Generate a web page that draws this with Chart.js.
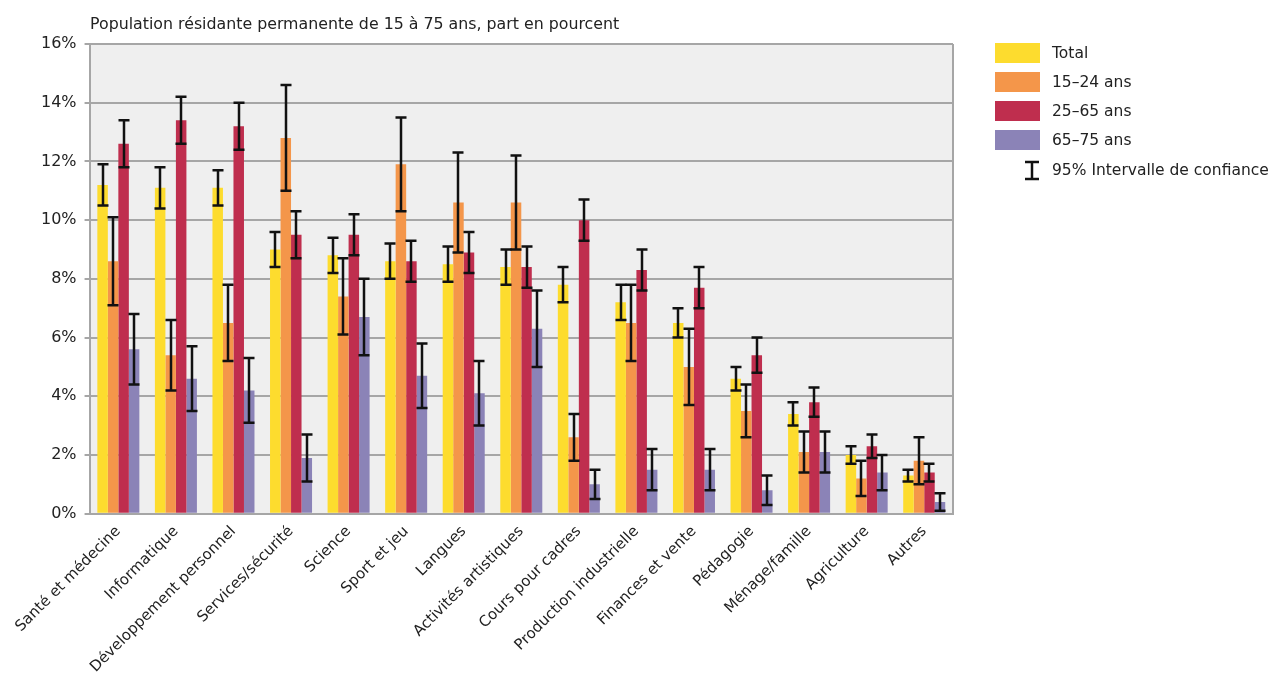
<!DOCTYPE html>
<html>
<head>
<meta charset="utf-8">
<script src="https://cdn.jsdelivr.net/npm/chart.js@4/dist/chart.umd.min.js"></script>
<style>
  body { margin: 0; background: #fff; font-family: "DejaVu Sans", sans-serif; color: #222; }
  #wrap { position: relative; width: 1277px; height: 677px; }
  #title { position: absolute; left: 90px; top: 14px; font-size: 15.8px; }
  #legend { position: absolute; left: 995px; top: 43px; font-size: 15.5px; }
  .item { height: 29px; display: flex; align-items: flex-start; }
  .sw { width: 45px; height: 20px; margin-right: 12px; }
  .item span { line-height: 20px; }
</style>
</head>
<body>
<div id="wrap">
  <canvas id="chart" width="1277" height="677"></canvas>
  <div id="title">Population résidante permanente de 15 à 75 ans, part en pourcent</div>
  <div id="legend"></div>
</div>
<script>
// categories
const categories = ['Santé et médecine', 'Informatique', 'Développement personnel', 'Services/sécurité',
  'Science', 'Sport et jeu', 'Langues', 'Activités artistiques', 'Cours pour cadres',
  'Production industrielle', 'Finances et vente', 'Pédagogie', 'Ménage/famille', 'Agriculture', 'Autres'];

const seriesNames = ['Total', '15–24 ans', '25–65 ans', '65–75 ans'];
const seriesColors = ['#FDDC2E', '#F4964A', '#BF2E4E', '#8B83B7'];

// values in percent
const total    = [11.2, 11.1, 11.1, 9.0, 8.8, 8.6, 8.5, 8.4, 7.8, 7.2, 6.5, 4.6, 3.4, 2.0, 1.3];
const age1524  = [8.6, 5.4, 6.5, 12.8, 7.4, 11.9, 10.6, 10.6, 2.6, 6.5, 5.0, 3.5, 2.1, 1.2, 1.8];
const age2565  = [12.6, 13.4, 13.2, 9.5, 9.5, 8.6, 8.9, 8.4, 10.0, 8.3, 7.7, 5.4, 3.8, 2.3, 1.4];
const age6575  = [5.6, 4.6, 4.2, 1.9, 6.7, 4.7, 4.1, 6.3, 1.0, 1.5, 1.5, 0.8, 2.1, 1.4, 0.4];

// 95% confidence interval bounds
const totalLow   = [10.5, 10.4, 10.5, 8.4, 8.2, 8.0, 7.9, 7.8, 7.2, 6.6, 6.0, 4.2, 3.0, 1.7, 1.1];
const totalHigh  = [11.9, 11.8, 11.7, 9.6, 9.4, 9.2, 9.1, 9.0, 8.4, 7.8, 7.0, 5.0, 3.8, 2.3, 1.5];
const a1524Low   = [7.1, 4.2, 5.2, 11.0, 6.1, 10.3, 8.9, 9.0, 1.8, 5.2, 3.7, 2.6, 1.4, 0.6, 1.0];
const a1524High  = [10.1, 6.6, 7.8, 14.6, 8.7, 13.5, 12.3, 12.2, 3.4, 7.8, 6.3, 4.4, 2.8, 1.8, 2.6];
const a2565Low   = [11.8, 12.6, 12.4, 8.7, 8.8, 7.9, 8.2, 7.7, 9.3, 7.6, 7.0, 4.8, 3.3, 1.9, 1.1];
const a2565High  = [13.4, 14.2, 14.0, 10.3, 10.2, 9.3, 9.6, 9.1, 10.7, 9.0, 8.4, 6.0, 4.3, 2.7, 1.7];
const a6575Low   = [4.4, 3.5, 3.1, 1.1, 5.4, 3.6, 3.0, 5.0, 0.5, 0.8, 0.8, 0.3, 1.4, 0.8, 0.1];
const a6575High  = [6.8, 5.7, 5.3, 2.7, 8.0, 5.8, 5.2, 7.6, 1.5, 2.2, 2.2, 1.3, 2.8, 2.0, 0.7];

const yTicks = [0, 2, 4, 6, 8, 10, 12, 14, 16];

const values = [total, age1524, age2565, age6575];
const lows = [totalLow, a1524Low, a2565Low, a6575Low];
const highs = [totalHigh, a1524High, a2565High, a6575High];

// legend
const legend = document.getElementById('legend');
seriesNames.forEach((name, i) => {
  const d = document.createElement('div');
  d.className = 'item';
  d.innerHTML = `<div class="sw" style="background:${seriesColors[i]}"></div><span>${name}</span>`;
  legend.appendChild(d);
});
const ci = document.createElement('div');
ci.className = 'item';
ci.innerHTML = `<svg width="45" height="22" style="margin-right:12px"><g stroke="#111" stroke-width="2.5">
  <line x1="30" y1="3" x2="44" y2="3"/><line x1="37" y1="3" x2="37" y2="20"/><line x1="30" y1="20" x2="44" y2="20"/></g></svg>
  <span style="line-height:22px">95% Intervalle de confiance</span>`;
legend.appendChild(ci);

// plot background + right border
const bgPlugin = {
  id: 'bg',
  beforeDraw(chart) {
    const a = chart.chartArea, ctx = chart.ctx;
    ctx.save();
    ctx.fillStyle = '#EFEFEF';
    ctx.fillRect(a.left, a.top, a.right - a.left, a.bottom - a.top);
    ctx.restore();
  },
  afterDraw(chart) {
    const a = chart.chartArea, ctx = chart.ctx;
    ctx.save();
    ctx.strokeStyle = '#A6A6A6';
    ctx.lineWidth = 2;
    ctx.beginPath();
    ctx.moveTo(a.right, a.top);
    ctx.lineTo(a.right, a.bottom);
    ctx.stroke();
    ctx.restore();
  }
};

// error bars
const errPlugin = {
  id: 'err',
  afterDatasetsDraw(chart) {
    const ctx = chart.ctx, y = chart.scales.y;
    ctx.save();
    ctx.strokeStyle = '#111';
    ctx.lineWidth = 2.5;
    chart.data.datasets.forEach((ds, di) => {
      const meta = chart.getDatasetMeta(di);
      meta.data.forEach((bar, i) => {
        const x = Math.round(bar.x);
        const yl = y.getPixelForValue(lows[di][i]);
        const yh = y.getPixelForValue(highs[di][i]);
        const hw = 5.5;
        ctx.beginPath();
        ctx.moveTo(x, yh); ctx.lineTo(x, yl);
        ctx.moveTo(x - hw, yh); ctx.lineTo(x + hw, yh);
        ctx.moveTo(x - hw, yl); ctx.lineTo(x + hw, yl);
        ctx.stroke();
      });
    });
    ctx.restore();
  }
};

new Chart(document.getElementById('chart'), {
  type: 'bar',
  data: {
    labels: categories,
    datasets: seriesNames.map((n, i) => ({
      label: n,
      data: values[i],
      backgroundColor: seriesColors[i],
      borderWidth: 0
    }))
  },
  options: {
    responsive: false,
    animation: false,
    layout: { padding: { top: 44, right: 324, left: 33, bottom: 0 } },
    plugins: { legend: { display: false }, tooltip: { enabled: false } },
    datasets: { bar: { categoryPercentage: 0.73, barPercentage: 1 } },
    scales: {
      x: {
        grid: { display: false },
        border: { display: true, color: '#A6A6A6', width: 2 },
        ticks: { color: '#222', font: { family: 'DejaVu Sans', size: 15 }, minRotation: 45, maxRotation: 45, padding: 1 }
      },
      y: {
        min: 0, max: 16,
        afterBuildTicks(axis) { axis.ticks = yTicks.map(v => ({ value: v })); },
        grid: { color: '#A6A6A6', lineWidth: 2, tickLength: 5 },
        border: { display: true, color: '#A6A6A6', width: 2 },
        ticks: { color: '#222', font: { family: 'DejaVu Sans', size: 16 }, callback: v => v + '%', padding: 8 }
      }
    }
  },
  plugins: [bgPlugin, errPlugin]
});
</script>
</body>
</html>
